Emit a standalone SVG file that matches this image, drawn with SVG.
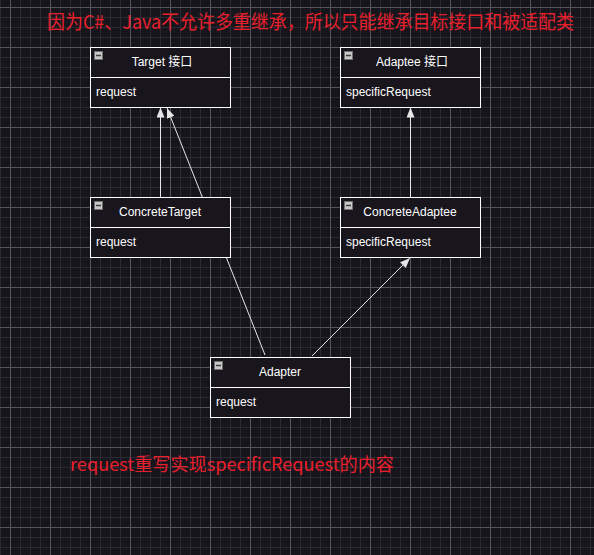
<svg xmlns="http://www.w3.org/2000/svg" width="594" height="555" viewBox="0 0 594 555">
<defs>
<pattern id="grid" x="10" y="7" width="40" height="40" patternUnits="userSpaceOnUse">
<path d="M10.5 0V40M20.5 0V40M30.5 0V40M0 10.5H40M0 20.5H40M0 30.5H40" stroke="#2b2932" stroke-width="1" fill="none"/>
<path d="M0.5 0V40M0 0.5H40" stroke="#55535b" stroke-width="1" fill="none"/>
</pattern>
<marker id="arr" viewBox="0 0 10 8" refX="10" refY="4" markerWidth="10" markerHeight="8" markerUnits="userSpaceOnUse" orient="auto">
<path d="M0 0L10 4L0 8Z" fill="#e6e6e6"/>
</marker>
<style>
.box{fill:#18151d;stroke:#ffffff;stroke-width:1}
.title{font-family:"Liberation Sans","Noto Sans CJK SC",sans-serif;font-size:12px;fill:#ffffff;text-anchor:middle}
.attr{font-family:"Liberation Sans","Noto Sans CJK SC",sans-serif;font-size:12px;fill:#ffffff}
.icon{fill:#c8c8c8;stroke:#707070;stroke-width:1}
.minus{stroke:#404040;stroke-width:1.5}
.edge{stroke:#e6e6e6;stroke-width:1;fill:none;marker-end:url(#arr)}
.note{font-family:"Noto Sans CJK SC","Liberation Sans",sans-serif;fill:#e8202c}
</style>
</defs>
<rect width="594" height="555" fill="#17151c"/>
<rect width="594" height="555" fill="url(#grid)"/>

<g id="connectors">
<path class="edge" d="M160.5 197V107.5"/>
<path class="edge" d="M410.5 197V107.5"/>
<path class="edge" d="M265 355L167 108"/>
<path class="edge" d="M312 356L410 258"/>
</g>

<g id="target">
<rect class="box" x="90.5" y="47.5" width="140" height="60"/>
<line x1="90.5" y1="77.5" x2="230.5" y2="77.5" stroke="#fff"/>
<rect class="icon" x="94.5" y="51.5" width="8" height="8"/>
<line class="minus" x1="96" y1="55.5" x2="101" y2="55.5"/>
<text class="title" x="162" y="66">Target 接口</text>
<text class="attr" x="96" y="96">request</text>
</g>

<g id="adaptee">
<rect class="box" x="340.5" y="47.5" width="140" height="60"/>
<line x1="340.5" y1="77.5" x2="480.5" y2="77.5" stroke="#fff"/>
<rect class="icon" x="344.5" y="51.5" width="8" height="8"/>
<line class="minus" x1="346" y1="55.5" x2="351" y2="55.5"/>
<text class="title" x="412" y="66">Adaptee 接口</text>
<text class="attr" x="346" y="96">specificRequest</text>
</g>

<g id="concreteTarget">
<rect class="box" x="90.5" y="197.5" width="140" height="60"/>
<line x1="90.5" y1="227.5" x2="230.5" y2="227.5" stroke="#fff"/>
<rect class="icon" x="94.5" y="201.5" width="8" height="8"/>
<line class="minus" x1="96" y1="205.5" x2="101" y2="205.5"/>
<text class="title" x="160" y="216">ConcreteTarget</text>
<text class="attr" x="96" y="246">request</text>
</g>

<g id="concreteAdaptee">
<rect class="box" x="340.5" y="197.5" width="140" height="60"/>
<line x1="340.5" y1="227.5" x2="480.5" y2="227.5" stroke="#fff"/>
<rect class="icon" x="344.5" y="201.5" width="8" height="8"/>
<line class="minus" x1="346" y1="205.5" x2="351" y2="205.5"/>
<text class="title" x="410" y="216">ConcreteAdaptee</text>
<text class="attr" x="346" y="246">specificRequest</text>
</g>

<g id="adapter">
<rect class="box" x="210.5" y="357.5" width="140" height="60"/>
<line x1="210.5" y1="387.5" x2="350.5" y2="387.5" stroke="#fff"/>
<rect class="icon" x="214.5" y="361.5" width="8" height="8"/>
<line class="minus" x1="216" y1="365.5" x2="221" y2="365.5"/>
<text class="title" x="280" y="376">Adapter</text>
<text class="attr" x="216" y="406">request</text>
</g>

<g id="note-top">
<text class="note" x="47" y="29" font-size="19" textLength="527" lengthAdjust="spacingAndGlyphs">因为C#、Java不允许多重继承，所以只能继承目标接口和被适配类</text>
</g>
<g id="note-bottom">
<text class="note" x="70" y="471" font-size="18" textLength="324" lengthAdjust="spacingAndGlyphs">request重写实现specificRequest的内容</text>
</g>
</svg>
